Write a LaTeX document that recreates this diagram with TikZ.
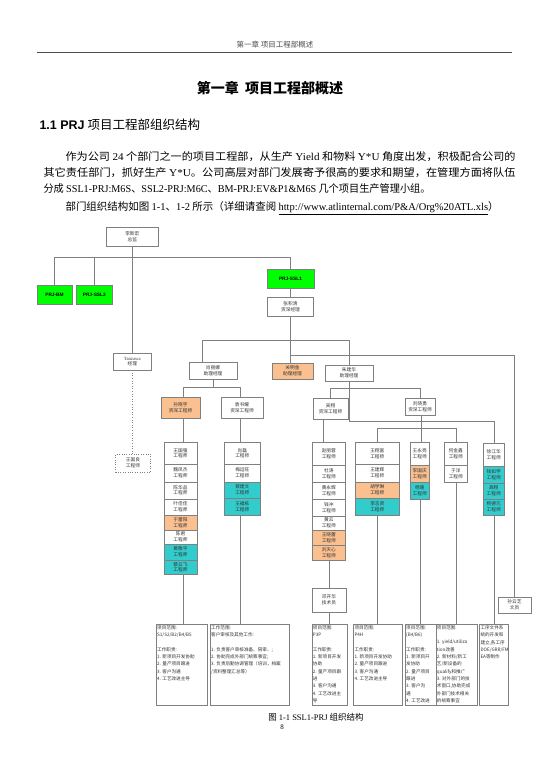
\documentclass[tikz,border=0pt]{standalone}
\usepackage{fontspec}
\usepackage{graphicx}
\setmainfont{Noto Sans CJK SC}
\newfontfamily\latin{Liberation Serif}
\newfontfamily\latinsans{Liberation Sans}
\definecolor{prjgreen}{RGB}{0,255,0}
\definecolor{leadorange}{RGB}{250,192,144}
\definecolor{keyteal}{RGB}{51,204,204}
\definecolor{linegray}{RGB}{128,128,128}

\begin{document}
\begin{tikzpicture}[x=1pt,y=-1pt,
  font=\fontsize{4.7}{5.8}\selectfont,
  person/.style={draw=black!50,fill=white,align=center,inner sep=0pt,text=black!80},
  team/.style={draw=black!50,fill=prjgreen,minimum height=19,inner sep=0pt,
               font=\latinsans\bfseries\fontsize{4.8}{6}\selectfont},
  duty/.style={draw=black!50,fill=white,anchor=north west,inner sep=1pt,text=black!80,
               font=\fontsize{4.6}{7.3}\selectfont},
  link/.style={draw=linegray,line width=0.6pt},
  textline/.style={anchor=west,font=\fontsize{10.5}{12}\selectfont}
]
  \useasboundingbox (0,0) rectangle (550,778);

  % page head, title and text
  \node[text=black!70,font=\fontsize{7.5}{9}\selectfont] (runhead) at (275,45) {第一章\ 项目工程部概述};
  \draw[black!70,line width=0.8pt] (37,52) -- (512,52);
  \node[font=\fontsize{14}{16}\selectfont\bfseries] (chap) at (270,88) {第一章\ \ 项目工程部概述};
  \node[anchor=west,font=\fontsize{12.5}{15}\selectfont] (sec) at (36,125)
    {{\latinsans\bfseries 1.1 PRJ} 项目工程部组织结构};
  \node[textline] (par1) at (62,157) {\resizebox{450pt}{\height}{作为公司 {\latin 24} 个部门之一的项目工程部，从生产 {\latin Yield} 和物料 {\latin Y*U} 角度出发，积极配合公司的}};
  \node[textline] (par2) at (40,173) {\resizebox{472pt}{\height}{其它责任部门，抓好生产 {\latin Y*U}。公司高层对部门发展寄予很高的要求和期望，在管理方面将队伍}};
  \node[textline] (par3) at (40,189) {\resizebox{387pt}{\height}{分成 {\latin SSL1-PRJ:M6S}、{\latin SSL2-PRJ:M6C}、{\latin BM-PRJ:EV\&P1\&M6S} 几个项目生产管理小组。}};
  \node[textline] (par4) at (62,208) {\resizebox{433pt}{\height}{部门组织结构如图 {\latin 1-1}、{\latin 1-2} 所示（详细请查阅 {\latin\underline{http://www.atlinternal.com/P\&A/Org\%20ATL.xls}}）}};

  % heads
  \node[person,minimum width=52,minimum height=19] (chief) at (132.3,236.5) {李新宏\\总监};
  \node[team,minimum width=35.6] (prjbm) at (54.5,294.5) {PRJ-BM};
  \node[team,minimum width=35.3] (prjssl2) at (94.3,295) {PRJ-SSL2};
  \node[team,minimum width=47] (prjssl1) at (290.5,278.5) {PRJ-SSL1};
  \node[person,minimum width=46,minimum height=19] (senior) at (290.5,306.5) {张积清\\资深经理};
  \node[person,minimum width=38,minimum height=17] (tanzawa) at (132.3,361.5) {{\latin Tanzawa}\\经理};
  \node[person,dotted,minimum width=35,minimum height=18] (wangguoliang) at (133,463) {王国良\\工程师};
  \node[person,minimum width=48,minimum height=17] (xiao) at (213,370.5) {肖丽娜\\助理经理};
  \node[person,fill=leadorange,minimum width=41,minimum height=16] (guan) at (292.5,371) {关明金\\助理经理};
  \node[person,minimum width=48,minimum height=16] (zhu) at (349,373) {朱建华\\助理经理};
  \node[person,fill=leadorange,minimum width=39,minimum height=21] (sun) at (180.5,407.5) {孙晓宇\\资深工程师};
  \node[person,minimum width=42,minimum height=21] (yuan) at (242,407.5) {袁书耀\\资深工程师};
  \node[person,minimum width=35,minimum height=21] (wu) at (330.5,408.5) {吴翔\\资深工程师};
  \node[person,minimum width=30,minimum height=17] (liu) at (420,406.5) {刘晓勇\\资深工程师};
  \node[person,minimum width=34,minimum height=24] (deng) at (329,600) {邓开华\\技术员};
  \node[person,minimum width=33,minimum height=16] (sunyz) at (514.5,605) {孙云芝\\文员};

  % engineer columns
  \foreach \i/\who/\ya/\yb/\clr in {1/王国强/442.3/464.3/white,2/魏凤杰/464.3/481.7/white,
      3/陈华品/481.7/498.7/white,4/叶佳佳/498.7/515/white,5/于蕾阳/515/530/leadorange,
      6/陈君/530/544/white,7/黄敬平/544/560/keyteal,8/蔡云飞/560/574.3/keyteal}
    \node[person,fill=\clr,minimum width=33,minimum height={\yb-\ya}] (colA-\i) at (180.5,{(\ya+\yb)/2}) {\who\\工程师};
  \foreach \i/\who/\ya/\yb/\clr in {1/肖磊/442.3/464.3/white,2/梅运旺/464.3/481.7/white,
      3/蔡建文/481.7/498.3/keyteal,4/王福栋/498.3/515/keyteal}
    \node[person,fill=\clr,minimum width=36.7,minimum height={\yb-\ya}] (colB-\i) at (242.3,{(\ya+\yb)/2}) {\who\\工程师};
  \foreach \i/\who/\ya/\yb/\clr in {1/赵丽蓉/442.3/465/white,2/杜涛/465/481.7/white,
      3/黄永辉/481.7/499/white,4/钱冲/499/515.7/white,5/黄云/515.7/530/white,
      6/王晓蕾/530/545/leadorange,7/刘天心/545/560/leadorange}
    \node[person,fill=\clr,minimum width=32.3,minimum height={\yb-\ya}] (colC-\i) at (328.8,{(\ya+\yb)/2}) {\who\\工程师};
  \foreach \i/\who/\ya/\yb/\clr in {1/王翔富/442.3/464.3/white,2/王建辉/464.3/481.7/white,
      3/胡学琳/481.7/498.3/leadorange,4/李志贤/498.3/515/keyteal}
    \node[person,fill=\clr,minimum width=44,minimum height={\yb-\ya}] (colD-\i) at (377.3,{(\ya+\yb)/2}) {\who\\工程师};
  \foreach \i/\who/\ya/\yb/\clr in {1/王永亮/442.3/465/white,2/李国庆/465/481.7/leadorange,
      3/杨珊/481.7/499/keyteal}
    \node[person,fill=\clr,minimum width=19.3,minimum height={\yb-\ya}] (colE-\i) at (419.7,{(\ya+\yb)/2}) {\who\\工程师};
  \foreach \i/\who/\ya/\yb/\clr in {1/何金鑫/442.3/465/white,2/于洋/465/482.3/white}
    \node[person,fill=\clr,minimum width=23.7,minimum height={\yb-\ya}] (colF-\i) at (455.8,{(\ya+\yb)/2}) {\who\\工程师};
  \foreach \i/\who/\ya/\yb/\clr in {1/徐江华/443.3/466/white,2/钱如学/466/482.7/keyteal,
      3/高翔/482.7/499/keyteal,4/杨德元/499/515/keyteal}
    \node[person,fill=\clr,minimum width=20.7,minimum height={\yb-\ya}] (colG-\i) at (493.7,{(\ya+\yb)/2}) {\who\\工程师};

  % duty boxes
  \node[duty] (dutyA) at (156,624.3) {\parbox[t][78.7pt][t]{49.3pt}{\raggedright
    项目范围:\\S1/S2/B2/B4/B5\\[7.3pt]工作职责:\\1. 新项目开发协助\\2. 量产项目跟进\\3. 客户沟通\\4. 工艺改进主导}};
  \node[duty] (dutyB) at (210,624.3) {\parbox[t][78.7pt][t]{77pt}{\raggedright
    工作范围:\\客户审核及其他工作:\\[7.3pt]1. 负责客户审核准备、陪审、;\\2. 协助完成外部门统筹事宜;\\3. 负责后勤协调管理（培训，档案\\/资料整理汇总等）}};
  \node[duty] (dutyC) at (311.7,624.3) {\parbox[t][78.7pt][t]{33.6pt}{\raggedright
    项目范围:\\P3P\\[7.3pt]工作职责:\\1. 新项目开发\\协助\\2. 量产项目跟\\进\\3. 客户沟通\\4. 工艺改进主\\导}};
  \node[duty] (dutyD) at (353.3,624.3) {\parbox[t][78.7pt][t]{46.4pt}{\raggedright
    项目范围:\\P4H\\[7.3pt]工作职责:\\1. 新项目开发协助\\2. 量产项目跟进\\3. 客户沟通\\4. 工艺改进主导}};
  \node[duty] (dutyE) at (405,624.3) {\parbox[t][78.7pt][t]{28.7pt}{\raggedright
    项目范围:\\(B4/B6)\\[7.3pt]工作职责:\\1. 新项目开\\发协助\\2. 量产项目\\跟进\\3. 客户沟\\通\\4. 工艺改进}};
  \node[duty] (dutyF) at (435.7,624.3) {\parbox[t][78.7pt][t]{39.6pt}{\raggedright
    项目范围:\\[7.3pt]1. yield/utiliza\\tion改善\\2. 新材料/新工\\艺/新设备的\\qualify和推广\\3. 对外部门的技\\术窗口,协助完成\\外部门技术相关\\的统筹事宜}};
  \node[duty] (dutyG) at (479.3,624.3) {\parbox[t][78.7pt][t]{27pt}{\raggedright
    工序文件系\\统的开发和\\建立,各工序\\DOE/GRR/FM\\EA等制作}};

  % connectors
  \coordinate (busTop) at (0,257);
  \coordinate (busMid) at (0,340);
  \coordinate (busRight) at (0,355.7);
  \coordinate (busXiao) at (0,387.3);
  \coordinate (busZhu) at (0,388.3);
  \coordinate (busZhuLow) at (0,421);
  \coordinate (busLiu) at (0,428.7);
  \coordinate (dropXiao) at (202,0);
  \coordinate (dropSun) at (183.3,0);
  \coordinate (dropYuan) at (240.7,0);
  \coordinate (dropWu) at (323.3,0);
  \coordinate (dropDeng) at (329.3,0);
  \coordinate (dropLiu) at (421.7,0);
  \coordinate (dropD) at (377.3,0);
  \coordinate (dropE) at (420,0);
  \coordinate (dropF) at (456,0);
  \coordinate (dropG) at (494,0);

  \draw[link] (chief) -- (tanzawa);
  \draw[link] (prjbm.north) |- (prjssl1.north |- busTop) -- (prjssl1.north);
  \draw[link] (prjssl2.north) -- (prjssl2.north |- busTop);
  \draw[link] (prjssl1) -- (senior);
  \draw[link] (senior) -- (guan.north -| senior);
  \draw[link] (dropXiao |- xiao.north) |- (zhu.north |- busMid) -- (zhu.north);
  \draw[link] (senior.south |- busRight) -| (sunyz.north);
  \draw[link,dotted] (tanzawa.south) -- (tanzawa.south |- wangguoliang.north);

  \draw[link] (xiao.south) -- (xiao.south |- busXiao);
  \draw[link] (dropSun |- sun.north) |- (dropYuan |- busXiao) -- (dropYuan |- yuan.north);
  \draw[link] (dropSun |- sun.south) -- (dropSun |- colA-1.north);
  \draw[link] (dropSun |- colA-8.south) -- (dropSun |- dutyA.north);
  \draw[link] (dropYuan |- yuan.south) -- (dropYuan |- colB-1.north);
  \draw[link] (dropYuan |- colB-4.south) -- (dropYuan |- dutyB.north);

  \draw[link] (wu.north) |- (liu.north |- busZhu) -- (liu.north);
  \draw[link] (zhu.south) |- (dropG |- busZhuLow) -- (dropG |- colG-1.north);
  \draw[link] (dropWu |- wu.south) -- (dropWu |- colC-1.north);
  \draw[link] (dropDeng |- colC-7.south) -- (dropDeng |- deng.north);
  \draw[link] (dropDeng |- deng.south) -- (dropDeng |- dutyC.north);
  \draw[link] (dropLiu |- liu.south) -- (dropLiu |- colE-1.north);
  \draw[link] (dropD |- colD-1.north) |- (dropF |- busLiu) -- (dropF |- colF-1.north);
  \draw[link] (dropD |- colD-4.south) -- (dropD |- dutyD.north);
  \draw[link] (dropE |- colE-3.south) -- (dropE |- dutyE.north);
  \draw[link] (dropF |- colF-2.south) -- (dropF |- dutyF.north);
  \draw[link] (dropG |- colG-4.south) -- (dropG |- dutyG.north);

  % caption
  \node[font=\fontsize{8.5}{10}\selectfont] (caption) at (316,717) {图 {\latin 1-1 SSL1-PRJ} 组织结构};
  \node[font=\latin\fontsize{7}{8}\selectfont] (pageno) at (282,727) {8};
\end{tikzpicture}
\end{document}
